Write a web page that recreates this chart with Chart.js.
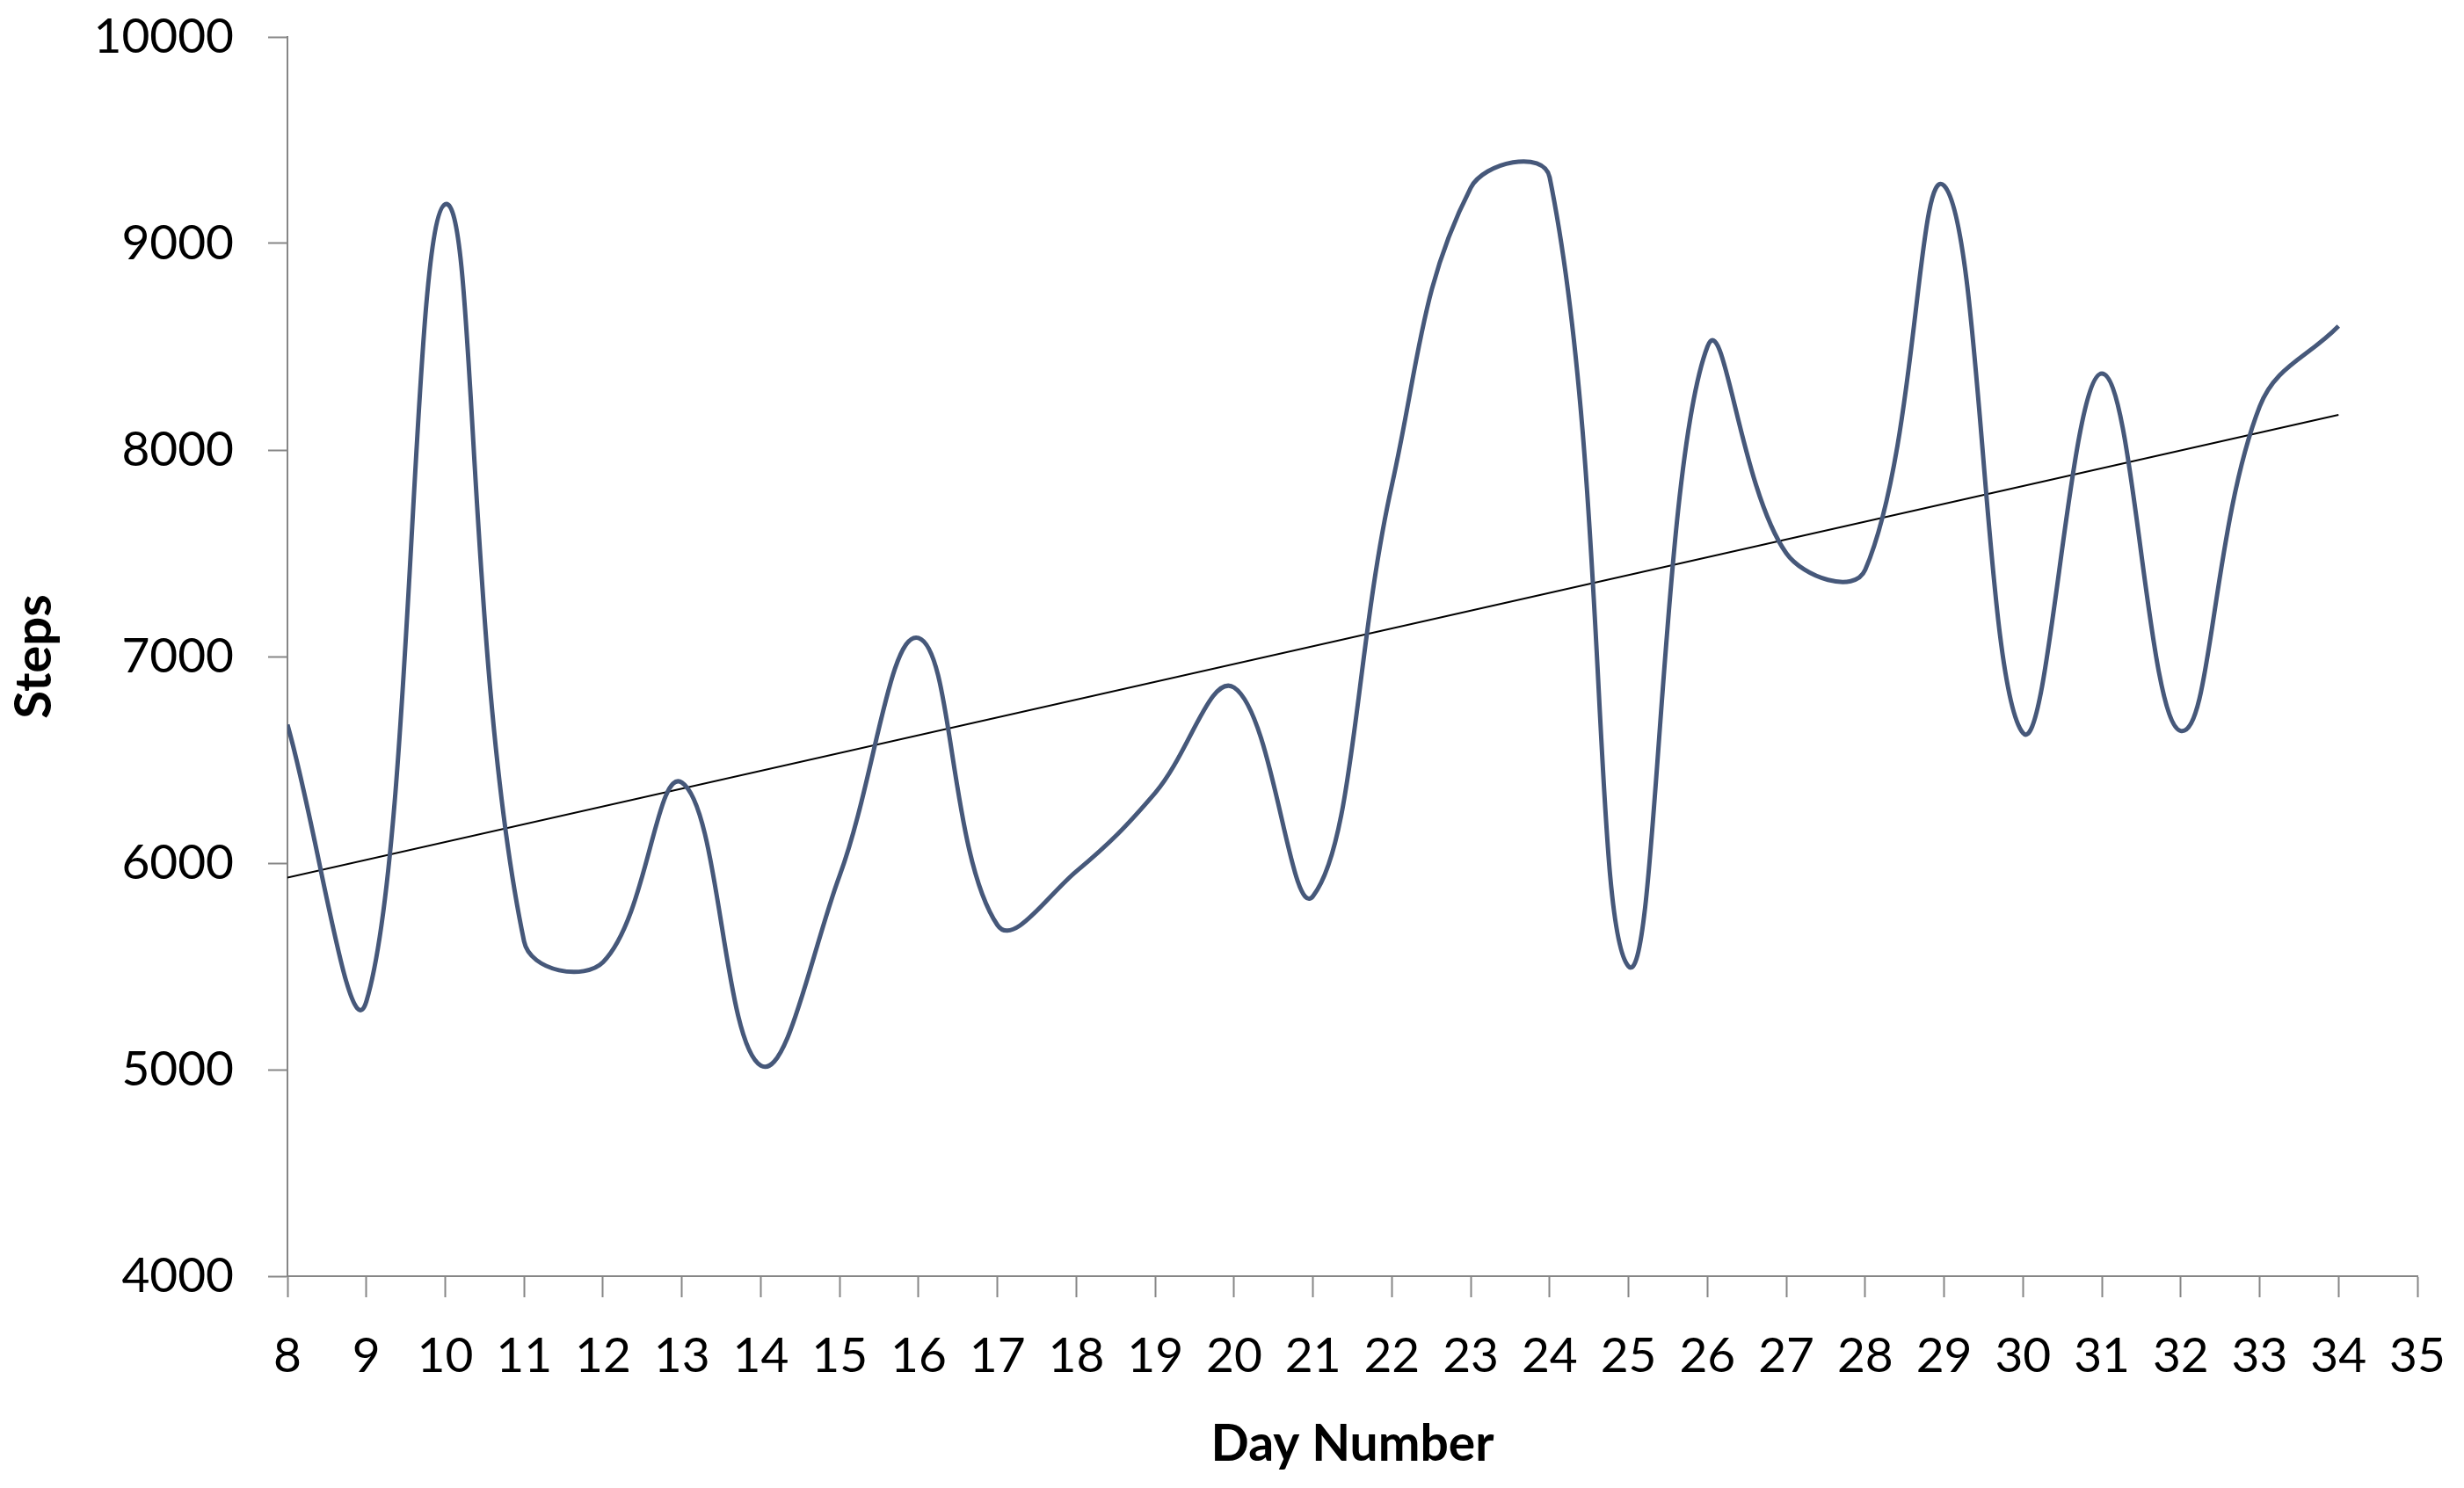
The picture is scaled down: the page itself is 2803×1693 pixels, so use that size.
<!DOCTYPE html>
<html>
<head>
<meta charset="utf-8">
<script src="https://cdn.jsdelivr.net/npm/chart.js@4/dist/chart.umd.min.js"></script>
<style>
    html, body { margin: 0; padding: 0; background: #fff; }
    #wrap { width: 2803px; height: 1693px; position: relative; }
</style>
</head>
<body>
<div id="wrap"><canvas id="stepsChart"></canvas></div>
<script>
const days = [8, 9, 10, 11, 12, 13, 14, 15, 16, 17, 18, 19, 20, 21,
              22, 23, 24, 25, 26, 27, 28, 29, 30, 31, 32, 33, 34];
const steps = [6670, 5330, 9190, 5620, 5520, 6390, 5020, 5940, 7090, 5700, 5960, 6340, 6850, 5840,
               7830, 9270, 9320, 5500, 8500, 7500, 7420, 9280, 6630, 8370, 6640, 8210, 8600];
// linear trend line, read at its two ends
const trendDays = [8, 34];
const trendSteps = [5930, 8170];

const xMin = 8, xMax = 35;
const yMin = 4000, yMax = 10000;

document.addEventListener('DOMContentLoaded', function () {
    const ctx = document.getElementById('stepsChart').getContext('2d');
    const axisGray = '#868686';
    const fontFamily = 'Lato, "Open Sans", sans-serif';

    const config = {
        type: 'line',
        data: {
            datasets: [{
                data: days.map((d, i) => ({ x: d, y: steps[i] })),
                borderColor: '#46587A',
                borderWidth: 5,
                pointRadius: 0,
                tension: 0.4,
                fill: false
            }, {
                data: trendDays.map((d, i) => ({ x: d, y: trendSteps[i] })),
                borderColor: '#000000',
                borderWidth: 2,
                pointRadius: 0,
                tension: 0,
                fill: false
            }]
        },
        options: {
            responsive: true,
            maintainAspectRatio: false,
            animation: false,
            layout: { padding: { top: 42, right: 53, left: 0, bottom: 0 } },
            plugins: {
                legend: { display: false },
                tooltip: { enabled: false }
            },
            scales: {
                x: {
                    type: 'linear',
                    min: xMin,
                    max: xMax,
                    afterFit: function (scale) {
                        scale.height = 241;
                        scale.paddingLeft = 0;
                        scale.paddingRight = 0;
                    },
                    grid: {
                        drawOnChartArea: false,
                        drawTicks: true,
                        tickLength: 24,
                        tickColor: axisGray,
                        tickWidth: 2
                    },
                    border: { display: true, color: axisGray, width: 2 },
                    ticks: {
                        stepSize: 1,
                        autoSkip: false,
                        maxRotation: 0,
                        padding: 34,
                        color: '#000',
                        font: { family: fontFamily, size: 55 }
                    },
                    title: {
                        display: true,
                        text: 'Day Number',
                        color: '#000',
                        font: { family: fontFamily, size: 57, weight: 'bold' },
                        padding: { top: 0, bottom: 15 }
                    }
                },
                y: {
                    min: yMin,
                    max: yMax,
                    afterFit: function (scale) {
                        scale.width = 327;
                        scale.paddingTop = 0;
                        scale.paddingBottom = 0;
                    },
                    grid: {
                        drawOnChartArea: false,
                        drawTicks: true,
                        tickLength: 22,
                        tickColor: axisGray,
                        tickWidth: 2
                    },
                    border: { display: true, color: axisGray, width: 2 },
                    ticks: {
                        stepSize: 1000,
                        padding: 39,
                        color: '#000',
                        font: { family: fontFamily, size: 55 },
                        callback: function (value) { return String(value); }
                    },
                    title: {
                        display: true,
                        text: 'Steps',
                        color: '#000',
                        font: { family: fontFamily, size: 58, weight: 'bold' },
                        padding: { top: 4, bottom: 0 }
                    }
                }
            }
        }
    };

    new Chart(ctx, config);
});
</script>
</body>
</html>
